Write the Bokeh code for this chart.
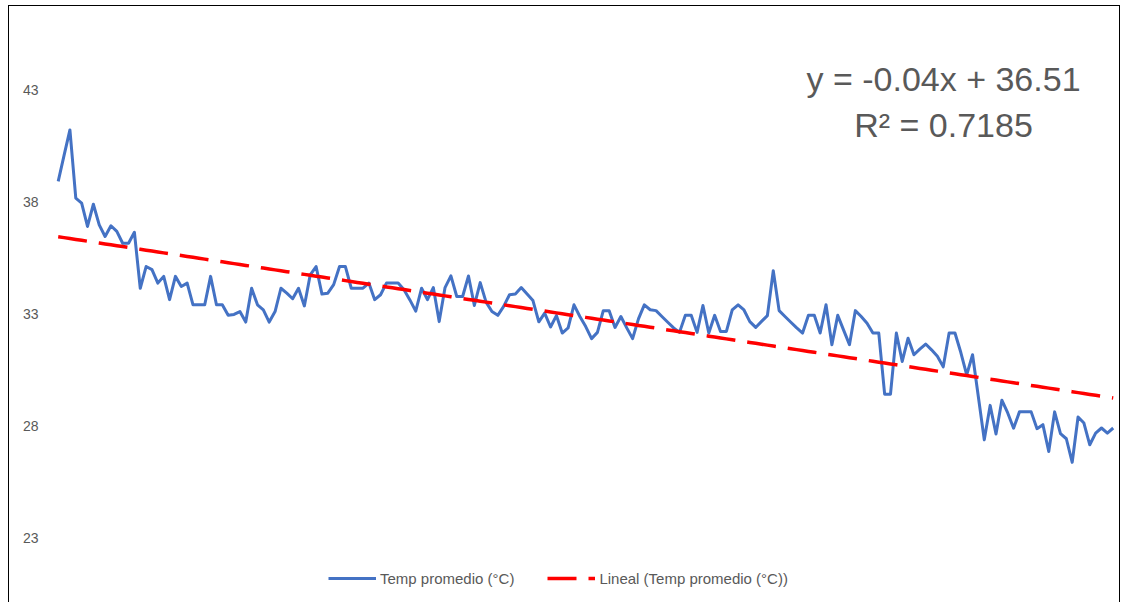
import numpy as np
from bokeh.plotting import figure
from bokeh.models import Range1d, FixedTicker, Legend, LegendItem, Label, ColumnDataSource
from bokeh.embed import file_html
from bokeh.resources import INLINE

# ---- data ----
temps = [
    38.94, 40.1, 41.24, 38.19, 37.97, 36.93, 37.92, 37.0, 36.48, 36.96,
    36.71, 36.18, 36.18, 36.67, 34.17, 35.14, 35.0, 34.4, 34.7, 33.66,
    34.7, 34.25, 34.4, 33.43, 33.43, 33.43, 34.7, 33.43, 33.43, 32.96,
    33.0, 33.13, 32.66, 34.17, 33.43, 33.2, 32.66, 33.13, 34.17, 33.95,
    33.7, 34.17, 33.38, 34.77, 35.14, 33.91, 33.95, 34.33, 35.14, 35.14,
    34.17, 34.17, 34.17, 34.4, 33.66, 33.88, 34.4, 34.4, 34.4, 34.1,
    33.65, 33.15, 34.17, 33.66, 34.2, 32.68, 34.2, 34.72, 33.8, 33.8,
    34.72, 33.4, 34.42, 33.55, 33.13, 32.96, 33.36, 33.88, 33.91, 34.2,
    33.91, 33.62, 32.67, 33.06, 32.44, 32.95, 32.17, 32.4, 33.43, 32.91,
    32.46, 31.92, 32.2, 33.17, 33.17, 32.42, 32.91, 32.4, 31.92, 32.8,
    33.43, 33.21, 33.17, 32.91, 32.65, 32.4, 32.2, 32.96, 32.96, 32.2,
    33.4, 32.17, 32.96, 32.24, 32.24, 33.2, 33.43, 33.2, 32.68, 32.42,
    32.69, 32.95, 34.95, 33.17, 32.91, 32.65, 32.4, 32.17, 32.96, 32.96,
    32.17, 33.43, 31.65, 32.96, 32.3, 31.65, 33.17, 32.91, 32.61, 32.17,
    32.17, 29.44, 29.44, 32.17, 30.9, 31.94, 31.2, 31.45, 31.68, 31.42,
    31.13, 30.66, 32.17, 32.17, 31.3, 30.3, 31.2, 29.3, 27.4, 28.94,
    27.66, 29.17, 28.6, 27.92, 28.65, 28.65, 28.65, 27.9, 28.08, 26.88,
    28.65, 27.68, 27.45, 26.4, 28.42, 28.15, 27.18, 27.7, 27.93, 27.7,
    27.93,
]
days = list(range(1, len(temps) + 1))
y_ticks = [23, 28, 33, 38, 43]
trend_slope = -0.04
trend_intercept = 36.51
series_label = "Temp promedio (°C)"
trend_label = "Lineal (Temp promedio (°C))"
eq_text = "y = -0.04x + 36.51"
r2_text = "R² = 0.7185"

# ---- build ----
trend = [trend_slope * d + trend_intercept for d in days]
src = ColumnDataSource(dict(day=days, temp=temps, trend=trend))

FONT = "Liberation Sans"
GRAY = "#595959"

p = figure(width=1112, height=600, output_backend="svg", toolbar_location=None,
           x_range=Range1d(-0.996, 181.9), y_range=Range1d(19.96, 46.08),
           x_axis_location=None, min_border_left=37, min_border_right=3,
           min_border_top=15, min_border_bottom=0)
p.margin = (5, 0, 0, 8)
p.styles = {"border": "1px solid #000000"}
p.outline_line_color = None
p.background_fill_color = "white"
p.border_fill_color = "white"
p.xgrid.visible = False
p.ygrid.visible = False

ax = p.yaxis[0]
ax.ticker = FixedTicker(ticks=y_ticks)
ax.axis_line_color = None
ax.major_tick_line_color = None
ax.minor_tick_line_color = None
ax.major_tick_out = 0
ax.major_label_standoff = 8
ax.major_label_text_font = FONT
ax.major_label_text_font_size = "14px"
ax.major_label_text_color = GRAY

r1 = p.line("day", "temp", source=src, line_color="#4472C4", line_width=3,
            line_join="round")
r2 = p.line("day", "trend", source=src, line_color="#FF0000", line_width=3.5,
            line_dash="29 12", line_cap="butt")

legend = Legend(items=[LegendItem(label=series_label, renderers=[r1]),
                       LegendItem(label=trend_label, renderers=[r2])],
                orientation="horizontal", location=(282, 18),
                glyph_width=48, glyph_height=20, label_standoff=4, spacing=33,
                padding=0, margin=0, border_line_color=None,
                background_fill_alpha=0, label_text_font=FONT,
                label_text_font_size="15px", label_text_color=GRAY)
p.add_layout(legend)

for txt, yy in [(eq_text, 528), (r2_text, 482)]:
    p.add_layout(Label(x=897, y=yy, x_units="screen", y_units="screen", text=txt,
                       text_align="center", text_baseline="alphabetic",
                       text_font=FONT, text_font_size="34px", text_color=GRAY))

open("out.html", "w").write(file_html(p, INLINE))
